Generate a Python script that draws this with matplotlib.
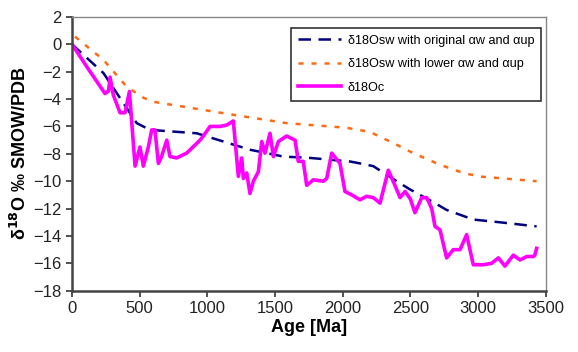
import matplotlib
matplotlib.use("Agg")
import matplotlib.pyplot as plt

plt.rcParams['font.family'] = ['Liberation Sans', 'DejaVu Sans']

# d18Oc (magenta)
age_c = [0, 120, 244, 270, 281, 305, 355, 392, 424, 466, 502, 527, 564, 589, 613, 638, 662,
         700, 724, 773, 847, 946, 970, 1020, 1094, 1143, 1192, 1229, 1254, 1266, 1291, 1315,
         1340, 1377, 1402, 1426, 1463, 1488, 1525, 1586, 1648, 1672, 1709, 1734, 1783, 1857,
         1882, 1919, 1980, 2017, 2067, 2128, 2177, 2226, 2276, 2337, 2386, 2424, 2461, 2500,
         2534, 2584, 2621, 2658, 2682, 2719, 2768, 2817, 2867, 2916, 2965, 3039, 3101, 3150,
         3199, 3261, 3310, 3360, 3409, 3420, 3433]
d18_c = [0, -1.8, -3.6, -3.4, -2.4, -3.7, -5.0, -5.0, -3.45, -8.9, -7.5, -8.9, -7.5, -6.25,
         -6.25, -8.7, -8.2, -7.0, -8.2, -8.3, -7.95, -7.0, -6.7, -6.0, -6.0, -5.9, -5.6, -9.65,
         -8.3, -9.8, -9.4, -10.9, -10.0, -9.3, -7.1, -7.95, -6.5, -8.2, -7.1, -6.7, -7.0, -8.55,
         -8.55, -10.3, -9.9, -10.0, -9.8, -7.95, -8.7, -10.75, -11.0, -11.36, -11.1, -11.2,
         -11.6, -9.2, -10.3, -11.2, -10.75, -11.3, -12.3, -11.2, -11.2, -12.0, -13.3, -13.55,
         -15.6, -15.0, -15.0, -13.9, -16.1, -16.1, -16.0, -15.6, -16.2, -15.4, -15.75, -15.5,
         -15.5, -15.4, -14.9]

# d18Osw with original aw and aup (navy dashed)
age_o = [0, 121, 232, 478, 576, 921, 1118, 1315, 1561, 1759, 2054, 2128, 2226, 2399, 2497,
         2682, 2768, 2867, 2965, 3162, 3433]
d18_o = [0, -1.1, -2.1, -5.76, -6.25, -6.5, -7.1, -7.7, -8.2, -8.3, -8.56, -8.7, -8.9, -10.0,
         -10.6, -11.6, -12.1, -12.45, -12.8, -13.0, -13.3]

# d18Osw with lower aw and aup (orange dotted)
age_l = [22, 232, 404, 527, 601, 1192, 1586, 2030, 2202, 2399, 2522, 2719, 2892, 3015, 3064,
         3433]
d18_l = [0.56, -1.14, -3.1, -3.9, -4.2, -5.15, -5.76, -6.1, -6.4, -7.34, -7.95, -8.8, -9.4,
         -9.66, -9.7, -10.0]

labels = ['δ18Osw with original αw and αup', 'δ18Osw with lower αw and αup', 'δ18Oc']
xticks = [0, 500, 1000, 1500, 2000, 2500, 3000, 3500]
yticks = list(range(-18, 3, 2))

fig = plt.figure(figsize=(5.78, 3.52), dpi=100)
ax = fig.add_axes([0.1246, 0.174, 0.8195, 0.778])

ax.plot(age_o, d18_o, color='#000080', lw=1.8, dashes=(5, 3), label=labels[0])
ax.plot(age_l, d18_l, color='#FF6A13', lw=1.8, dashes=(2, 3.2), label=labels[1])
ax.plot(age_c, d18_c, color='#FF00FF', lw=2.6, label=labels[2], solid_joinstyle='round')

ax.set_xlim(0, 3500)
ax.set_ylim(-18, 2)
ax.set_xticks(xticks)
ax.set_yticks(yticks)
ax.tick_params(axis='both', direction='out', length=4, width=1.2, labelsize=12,
               colors='#333333', labelcolor='#222222')
for s in ['left', 'bottom']:
    ax.spines[s].set_linewidth(1.8)
    ax.spines[s].set_color('#444444')
for s in ['top', 'right']:
    ax.spines[s].set_linewidth(1.0)
    ax.spines[s].set_color('#888888')

ax.set_xlabel('Age [Ma]', fontsize=13, fontweight='bold', labelpad=2)
ax.set_ylabel('δ$^{\\mathbf{18}}$O ‰ SMOW/PDB', fontsize=13, fontweight='bold', labelpad=2)

leg = ax.legend(loc='upper right', fontsize=9.1, frameon=True, fancybox=False,
                edgecolor='black', handlelength=3.4, handletextpad=0.5, borderaxespad=0,
                bbox_to_anchor=(0.990, 0.960), labelspacing=0.9, borderpad=0.55)
leg.get_frame().set_linewidth(1.2)

fig.savefig('out.png', dpi=100)
